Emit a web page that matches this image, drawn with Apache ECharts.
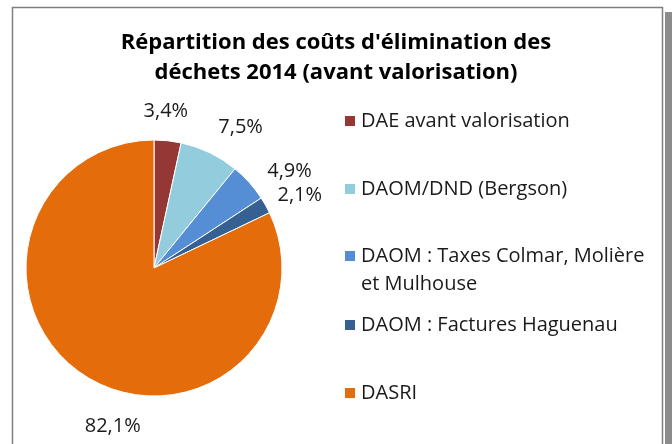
<!DOCTYPE html>
<html>
<head>
<meta charset="utf-8">
<script src="https://cdn.jsdelivr.net/npm/echarts@6/dist/echarts.min.js"></script>
<style>
html,body{margin:0;padding:0;background:#fff;}
#chart{width:672px;height:444px;}
</style>
</head>
<body>
<div id="chart"></div>
<script>
// ---- data ----
const categories = [
  'DAE avant valorisation',
  'DAOM/DND (Bergson)',
  'DAOM : Taxes Colmar, Molière et Mulhouse',
  'DAOM : Factures Haguenau',
  'DASRI'
];
const shares = [3.4, 7.5, 4.9, 2.1, 82.1];
const titleLines = ["Répartition des coûts d'élimination des", "déchets 2014 (avant valorisation)"];

// ---- styles ----
const colors = ['#953735', '#93CDDD', '#558ED5', '#376092', '#E46C0A'];
const labelNudge = [[-10, 0], [13, 2], [13, 9], [3, 5], [48, 25]];
const legendCenters = [121, 189, 256, 325, 393];
const FONT = '"Open Sans", sans-serif';

const chart = echarts.init(document.getElementById('chart'), null, {renderer: 'canvas'});

const legends = categories.map(function (name, i) {
  const twoLine = name.indexOf('Molière') >= 0;
  return {
    data: [name],
    orient: 'vertical',
    left: 343,
    top: twoLine ? legendCenters[i] - 42 : legendCenters[i] - 12,
    padding: 0,
    icon: 'rect',
    itemWidth: 12,
    itemHeight: 12,
    selectedMode: false,
    formatter: function (n) {
      // leading empty line keeps the first text line level with the swatch
      return twoLine ? '\nDAOM : Taxes Colmar, Molière\net Mulhouse' : n;
    },
    textStyle: {
      fontFamily: FONT,
      fontSize: 20,
      color: '#1a1a1a',
      lineHeight: twoLine ? 28 : 24
    }
  };
});

chart.setOption({
  animation: false,
  color: colors,
  title: {
    text: titleLines.join('\n'),
    left: 'center',
    top: 28,
    padding: 0,
    textStyle: {
      fontFamily: FONT,
      fontSize: 22,
      fontWeight: 'bold',
      color: '#000',
      lineHeight: 30
    }
  },
  legend: legends,
  graphic: [
    {
      type: 'rect', silent: true, z: -10,
      shape: {x: 665, y: 12, width: 7, height: 440},
      style: {fill: '#8c8c8c'}
    },
    {
      type: 'rect', silent: true, z: -9,
      shape: {x: 12.5, y: 7.5, width: 650, height: 460},
      style: {fill: '#fff', stroke: '#808080', lineWidth: 1.5}
    }
  ],
  series: [{
    type: 'pie',
    center: [154, 268],
    radius: 128,
    startAngle: 90,
    clockwise: true,
    avoidLabelOverlap: false,
    silent: true,
    data: categories.map(function (c, i) { return {name: c, value: shares[i]}; }),
    itemStyle: {borderColor: '#fff', borderWidth: 1},
    label: {
      show: true,
      position: 'outside',
      fontFamily: FONT,
      fontSize: 20,
      color: '#1a1a1a',
      formatter: function (p) { return p.value.toFixed(1).replace('.', ',') + '%'; }
    },
    labelLine: {show: false, length: 30, length2: 0},
    labelLayout: function (p) {
      const n = labelNudge[p.dataIndex];
      return {align: 'center', verticalAlign: 'middle', dx: n[0], dy: n[1]};
    }
  }]
});
</script>
</body>
</html>
